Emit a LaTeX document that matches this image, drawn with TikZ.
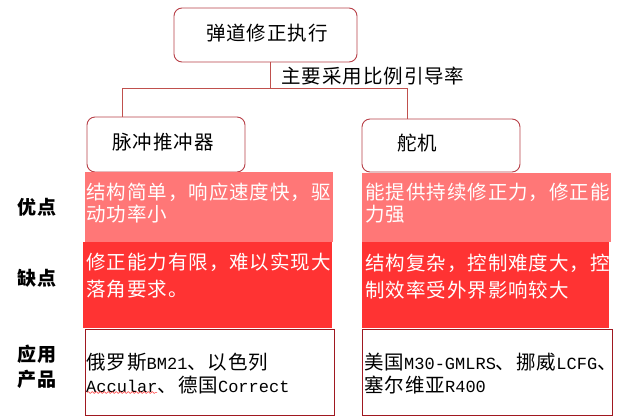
\documentclass[tikz,border=0pt]{standalone}
\usepackage{fontspec}
\setmainfont{Noto Sans CJK SC}[LetterSpace=5]
\newfontfamily\latinmono{Liberation Mono}
\usetikzlibrary{decorations.pathmorphing}
\definecolor{lineRed}{HTML}{C0504D}
\definecolor{boxRed}{HTML}{B84048}
\definecolor{pinkFill}{HTML}{FF7777}
\definecolor{redFill}{HTML}{FF3333}
\definecolor{darkBorder}{HTML}{A01820}
\tikzset{
  rbox/.style={draw=boxRed, line width=0.9pt, rounded corners=8pt, fill=white, inner sep=0pt},
  cell/.style={inner sep=0pt, draw=none},
  celltext/.style={anchor=north west, inner sep=0pt, align=left, text=white, font=\fontsize{19.5}{22}\selectfont},
  celltextB/.style={anchor=north west, inner sep=0pt, align=left, text=white, font=\fontsize{19.5}{27}\selectfont},
  plaintext/.style={anchor=north west, inner sep=0pt, align=left, text=black, font=\fontsize{19.5}{23}\selectfont},
  rowlabel/.style={inner sep=0pt, align=center, text=black, font=\fontsize{19}{25}\selectfont\bfseries},
  conn/.style={draw=lineRed, line width=0.9pt},
  txt/.style={inner sep=0pt, font=\fontsize{19.5}{22}\selectfont}
}
\begin{document}
\begin{tikzpicture}[x=1pt,y=-1pt]
\useasboundingbox (0,0) rectangle (621,416);
% top box
\node[rbox, minimum width=183pt, minimum height=54pt] (top) at (265.5,35) {};
\node[txt] (toptxt) at (267,33) {弹道修正执行};
% connectors
\coordinate (tj) at (270,88);
\coordinate (cl) at (122,88);
\coordinate (cr) at (407,88);
% child boxes
\node[rbox, minimum width=158pt, minimum height=55pt] (lchild) at (166,144.5) {};
\node[rbox, minimum width=158pt, minimum height=53pt] (rchild) at (441,145.5) {};
\draw[conn] (tj |- top.south) -- (tj);
\draw[conn] (cl) -- (cr);
\draw[conn] (cl) -- (cl |- lchild.north);
\draw[conn] (cr) -- (cr |- rchild.north);
\node[txt, anchor=west] (mainlbl) at (281,76) {主要采用比例引导率};
\node[txt] (lchildtxt) at (163,142) {脉冲推冲器};
\node[txt, anchor=west] (rchildtxt) at (397,143) {舵机};
% advantage cells
\node[cell, fill=pinkFill, minimum width=248pt, minimum height=70pt, anchor=north west] (advL) at (85,172) {};
\node[cell, fill=pinkFill, minimum width=249pt, minimum height=69pt, anchor=north west] (advR) at (362,173) {};
% disadvantage cells
\node[cell, fill=redFill, minimum width=249pt, minimum height=86pt, anchor=north west] (disL) at (83,242) {};
\node[cell, fill=redFill, minimum width=247pt, minimum height=86pt, anchor=north west] (disR) at (362,242) {};
% product cells
\node[cell, draw=darkBorder, line width=0.8pt, fill=white, minimum width=249pt, minimum height=86pt, anchor=north west] (prodL) at (85,328.5) {};
\node[cell, draw=darkBorder, line width=0.8pt, fill=white, minimum width=250pt, minimum height=86pt, anchor=north west] (prodR) at (362,328.5) {};
% texts
\node[celltext] (advLt) at (86,183) {结构简单，响应速度快，驱\\动功率小};
\node[celltext] (advRt) at (365,183) {能提供持续修正力，修正能\\力强};
\node[celltextB] (disLt) at (86,253) {修正能力有限，难以实现大\\落角要求。};
\node[celltextB] (disRt) at (365,254) {结构复杂，控制难度大，控\\制效率受外界影响较大};
\node[plaintext] (prodLt) at (86,353) {俄罗斯{\latinmono\fontsize{17}{23}\selectfont BM21}、以色列\\{\latinmono\fontsize{17}{23}\selectfont Accular}、德国{\latinmono\fontsize{17}{23}\selectfont Correct}};
\node[plaintext] (prodRt) at (364,353) {美国{\latinmono\fontsize{17}{23}\selectfont M30-GMLRS}、挪威{\latinmono\fontsize{17}{23}\selectfont LCFG}、\\塞尔维亚{\latinmono\fontsize{17}{23}\selectfont R400}};
\draw[red!80, line width=0.5pt, decorate, decoration={snake, amplitude=0.9pt, segment length=4pt}]
  ([xshift=2pt,yshift=-64pt]prodL.north west) -- ([xshift=72pt,yshift=-64pt]prodL.north west);
% row labels
\node[rowlabel] (lblAdv) at (37,207) {优点};
\node[rowlabel] (lblDis) at (37,278) {缺点};
\node[rowlabel] (lblProd) at (37,367) {应用\\产品};
\end{tikzpicture}
\end{document}
